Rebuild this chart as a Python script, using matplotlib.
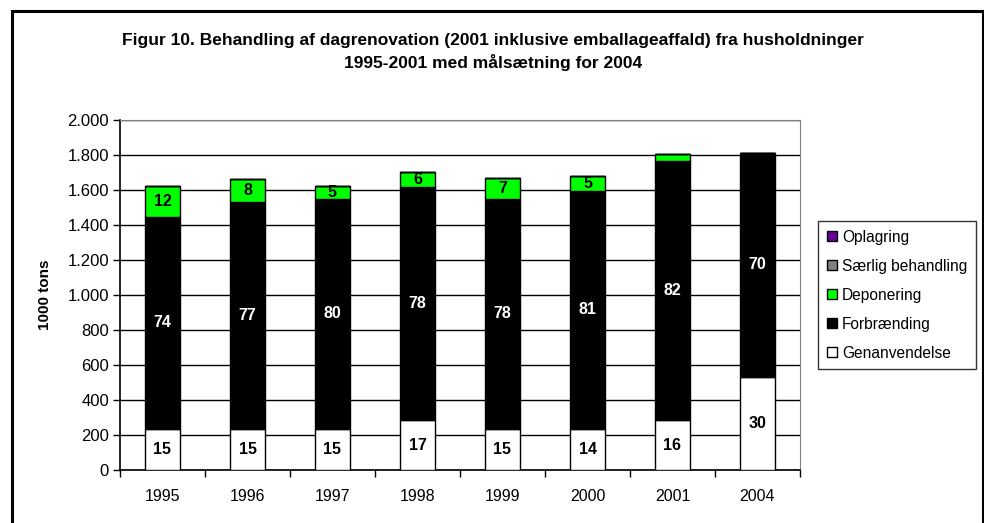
import matplotlib
matplotlib.use("Agg")
import matplotlib.pyplot as plt
from matplotlib.patches import Rectangle
from matplotlib.ticker import FuncFormatter
import numpy as np

plt.rcParams['font.family'] = ['Liberation Sans', 'DejaVu Sans']

# 1000 tons
years = ['1995', '1996', '1997', '1998', '1999', '2000', '2001', '2004']
genanvendelse = [237, 237, 237, 283, 237, 237, 283, 534]
forbraending = [1210, 1293, 1313, 1336, 1313, 1359, 1484, 1275]
deponering = [177, 131, 74, 85, 120, 86, 38, 0]
saerlig = [0, 0, 0, 0, 0, 0, 0, 0]
oplagring = [0, 0, 0, 0, 0, 0, 0, 0]

# percentage labels shown in the segments
gen_pct = ['15', '15', '15', '17', '15', '14', '16', '30']
forb_pct = ['74', '77', '80', '78', '78', '81', '82', '70']
dep_pct = ['12', '8', '5', '6', '7', '5', '', '']

series = [
    ('Genanvendelse', genanvendelse, '#ffffff', gen_pct, 'black'),
    ('Forbrænding', forbraending, '#000000', forb_pct, 'white'),
    ('Deponering', deponering, '#00ff00', dep_pct, 'black'),
    ('Særlig behandling', saerlig, '#808080', None, 'black'),
    ('Oplagring', oplagring, '#660099', None, 'black'),
]

fig = plt.figure(figsize=(9.84, 5.23), dpi=100)
ax = fig.add_axes([120/984, 53/523, 680/984, 350/523])

x = np.arange(len(years))
bottom = np.zeros(len(years))
handles = []
for name, vals, color, labels, tcolor in series:
    vals = np.array(vals, dtype=float)
    bars = ax.bar(x, vals, width=0.42, bottom=bottom, color=color,
                  edgecolor='black', linewidth=1, zorder=3, label=name)
    handles.append(bars)
    if labels is not None:
        for xi, b, v, lab in zip(x, bottom, vals, labels):
            if lab:
                ax.text(xi, b + v / 2, lab, ha='center', va='center',
                        fontsize=11.5, fontweight='bold', color=tcolor, zorder=4)
    bottom += vals

ax.set_xlim(-0.5, len(years) - 0.5)
ax.set_ylim(0, 2000)
ax.set_yticks(np.arange(0, 2001, 200))
ax.yaxis.set_major_formatter(FuncFormatter(lambda v, p: f"{int(v):,}".replace(',', '.')))
ax.set_xticks(x)
ax.set_xticklabels(years)
ax.set_xticks(np.arange(-0.5, len(years), 1), minor=True)
ax.tick_params(axis='x', which='major', length=0, pad=14, labelsize=11.5)
ax.tick_params(axis='x', which='minor', length=5, width=1, direction='out')
ax.tick_params(axis='y', length=5, width=1, direction='out', labelsize=12, pad=3)

ax.grid(axis='y', color='black', linewidth=1, zorder=0)
ax.set_axisbelow(True)
for s in ['top', 'right']:
    ax.spines[s].set_color('#808080')
for s in ['left', 'bottom']:
    ax.spines[s].set_color('black')
    ax.spines[s].set_linewidth(1.2)

ax.set_ylabel('1000 tons', fontsize=11, fontweight='bold')
ax.yaxis.set_label_coords((52 - 120) / 680, 0.5)

fig.text(493/984, 1 - 41/523, 'Figur 10. Behandling af dagrenovation (2001 inklusive emballageaffald) fra husholdninger',
         ha='center', va='center', fontsize=12.5, fontweight='bold')
fig.text(493/984, 1 - 62/523, '1995-2001 med målsætning for 2004',
         ha='center', va='center', fontsize=12.5, fontweight='bold')

leg = fig.legend(handles=handles[::-1], loc='upper left',
                 bbox_to_anchor=(818/984, 1 - 221/523), borderaxespad=0,
                 fancybox=False, edgecolor='black', fontsize=11.2,
                 handlelength=0.65, handleheight=0.65, handletextpad=0.35,
                 labelspacing=0.9, borderpad=0.55)
leg.get_frame().set_linewidth(1)

fig.patches.append(Rectangle((12/984, -0.1), 971/984, 1.1 - 11/523,
                             transform=fig.transFigure, fill=False,
                             edgecolor='black', linewidth=2.2))

fig.savefig('out.png', dpi=100)
